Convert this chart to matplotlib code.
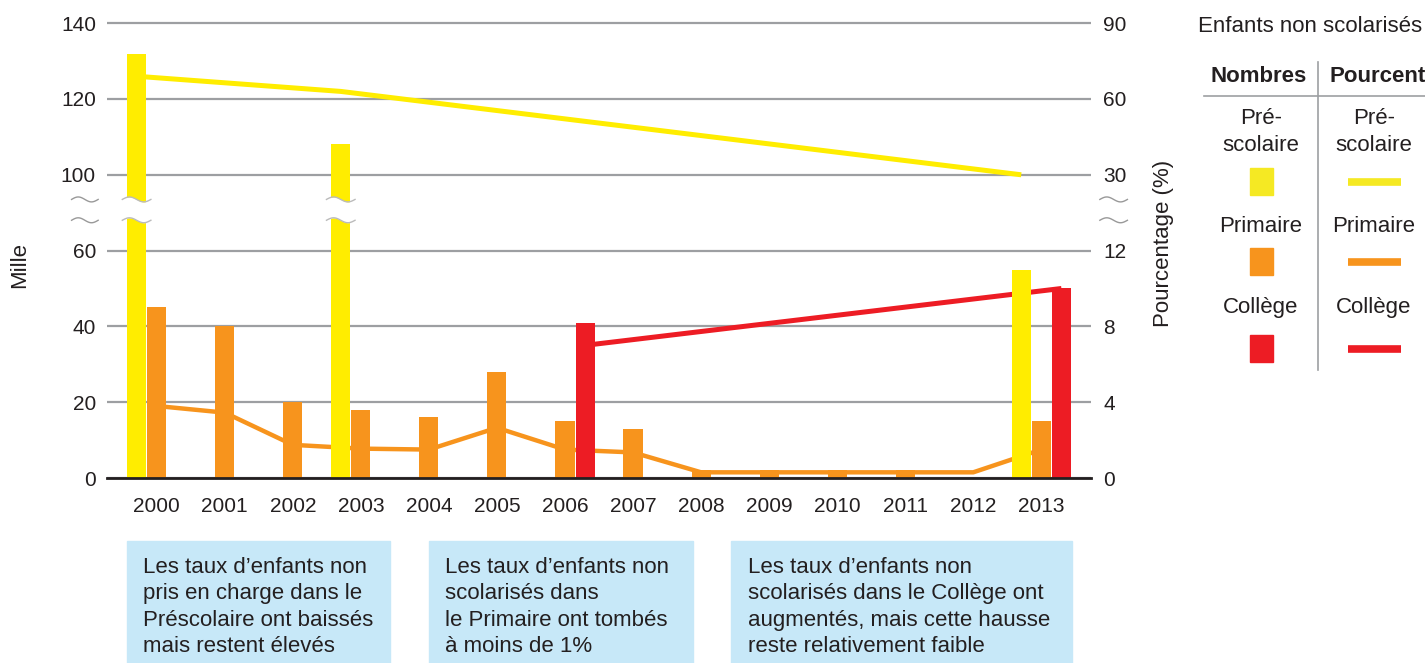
import numpy as np
import matplotlib
matplotlib.use("Agg")
import matplotlib.pyplot as plt
from matplotlib.patches import Rectangle
from matplotlib.lines import Line2D
from matplotlib.transforms import blended_transform_factory

plt.rcParams['font.family'] = ['Liberation Sans', 'DejaVu Sans']

# data (milliers et pourcentages d'enfants non scolarisés)
years = np.arange(2000, 2014)
presc_n = [132, 0, 0, 108, 0, 0, 0, 0, 0, 0, 0, 0, 0, 55]
prim_n = [45, 40, 20, 18, 16, 28, 15, 13, 2, 2, 2, 2, 0, 15]
coll_n = [0, 0, 0, 0, 0, 0, 41, 0, 0, 0, 0, 0, 0, 50]

presc_pct_years = [2000, 2003, 2013]
presc_pct = [69, 63, 30]
prim_pct = [3.8, 3.45, 1.75, 1.55, 1.5, 2.65, 1.5, 1.35, 0.3, 0.3, 0.3, 0.3, 0.3, 1.5]
coll_pct_years = [2006, 2013]
coll_pct = [7, 10]

left_ticks = [0, 20, 40, 60, 100, 120, 140]
right_ticks = [0, 4, 8, 12, 30, 60, 90]

notes = [
    "Les taux d\u2019enfants non\npris en charge dans le\nPréscolaire ont baissés\nmais restent élevés",
    "Les taux d\u2019enfants non\nscolarisés dans\nle Primaire ont tombés\nà moins de 1%",
    "Les taux d\u2019enfants non\nscolarisés dans le Collège ont\naugmentés, mais cette hausse\nreste relativement faible",
]

YELLOW = "#FFED00"
ORANGE = "#F7941D"
RED = "#ED1C24"
TXT = "#231F20"
GRID = "#9D9FA2"
BOX = "#C7E8F8"
FS = 16
TFS = 15


# broken axes: 60-100 and 12-30 squeezed into one step
def fwd_left(v):
    v = np.asarray(v, float)
    return np.where(v <= 60, v / 20, np.where(v < 100, 3 + (v - 60) / 40, 4 + (v - 100) / 20))


def inv_left(t):
    t = np.asarray(t, float)
    return np.where(t <= 3, t * 20, np.where(t < 4, 60 + (t - 3) * 40, 100 + (t - 4) * 20))


def fwd_right(p):
    p = np.asarray(p, float)
    return np.where(p <= 12, p / 4, np.where(p < 30, 3 + (p - 12) / 18, 4 + (p - 30) / 30))


def inv_right(t):
    t = np.asarray(t, float)
    return np.where(t <= 3, t * 4, np.where(t < 4, 12 + (t - 3) * 18, 30 + (t - 4) * 30))


W, H = 1425, 663
fig = plt.figure(figsize=(W / 100, H / 100), dpi=100)
ax = fig.add_axes([107 / W, 1 - 478 / H, (1091 - 107) / W, (478 - 19.4) / H])
ax2 = ax.twinx()

ax.set_yscale('function', functions=(fwd_left, inv_left))
ax2.set_yscale('function', functions=(fwd_right, inv_right))
ytop = 141
ax.set_ylim(0, ytop)
ax2.set_ylim(0, float(inv_right(fwd_left(ytop))))
ax.set_xlim(1999.27, 2013.73)

# bars on top of the lines
ax.set_zorder(ax2.get_zorder() + 1)
ax.patch.set_visible(False)

bw = 0.28
off = 0.295
ax.bar(years - off, presc_n, width=bw, color=YELLOW, zorder=2)
ax.bar(years, prim_n, width=bw, color=ORANGE, zorder=2)
ax.bar(years + off, coll_n, width=bw, color=RED, zorder=2)

ax2.plot(np.array(presc_pct_years) - off, presc_pct, color=YELLOW, lw=3.6, zorder=3,
         solid_capstyle='butt')
ax2.plot(years, prim_pct, color=ORANGE, lw=3.2, zorder=3, solid_capstyle='butt')
ax2.plot(np.array(coll_pct_years) + off, coll_pct, color=RED, lw=3.6, zorder=3,
         solid_capstyle='butt')

# grid and ticks
ax2.set_yticks(right_ticks)
ax2.set_yticklabels([str(t) for t in right_ticks])
ax2.grid(axis='y', color=GRID, lw=1.6, zorder=0)
ax.set_yticks(left_ticks)
ax.set_yticklabels([str(t) for t in left_ticks])
ax.set_xticks(years)
ax.set_xticklabels([str(y) for y in years])
ax.minorticks_off()
ax2.minorticks_off()
ax.tick_params(axis='y', length=0, pad=8, labelsize=TFS, labelcolor=TXT)
ax2.tick_params(axis='y', length=0, pad=9, labelsize=TFS, labelcolor=TXT)
ax.tick_params(axis='x', length=0, pad=14, labelsize=TFS, labelcolor=TXT)
for a in (ax, ax2):
    for s in a.spines.values():
        s.set_visible(False)
ax.spines['bottom'].set_visible(True)
ax.spines['bottom'].set_color(TXT)
ax.spines['bottom'].set_linewidth(2)

# break marks
brk_lo, brk_hi, amp = 76, 87, 1.3
s = np.sin(np.linspace(0, 2 * np.pi, 60))
for yr, v in zip(years, presc_n):
    if v >= 100:
        xs = np.linspace(yr - off - 0.21, yr - off + 0.21, 60)
        ax.fill_between(xs, brk_lo + amp * s, brk_hi + amp * s, color='white', lw=0, zorder=4)
        ax.plot(xs, brk_lo + amp * s, color='#BBBBBB', lw=1, zorder=5)
        ax.plot(xs, brk_hi + amp * s, color='#BBBBBB', lw=1, zorder=5)
tr = blended_transform_factory(ax.transAxes, ax.transData)
for x0, x1 in [(-0.036, -0.009), (1.009, 1.037)]:
    xs = np.linspace(x0, x1, 60)
    for b in (brk_lo, brk_hi):
        ax.plot(xs, b + amp * s, color='#999999', lw=1, transform=tr, clip_on=False)

# axis titles
fig.text(20 / W, 1 - 265 / H, "Mille", rotation=90, ha='center', va='center',
         fontsize=FS, color=TXT)
fig.text(1163 / W, 1 - 243 / H, "Pourcentage (%)", rotation=90, ha='center', va='center',
         fontsize=FS, color=TXT)

# legend table
fig.text(1310 / W, 1 - 26 / H, "Enfants non scolarisés", ha='center', va='center',
         fontsize=FS, color=TXT)
fig.text(1259 / W, 1 - 76 / H, "Nombres", ha='center', va='center', fontsize=FS,
         fontweight='bold', color=TXT)
fig.text(1378 / W, 1 - 76 / H, "Pourcent", ha='center', va='center', fontsize=FS,
         fontweight='bold', color=TXT)
fig.add_artist(Line2D([1318 / W, 1318 / W], [1 - 62 / H, 1 - 370 / H], color=GRID, lw=1.2))
fig.add_artist(Line2D([1204 / W, 1], [1 - 96 / H, 1 - 96 / H], color=GRID, lw=1.2))
rows = [("Pré-\nscolaire", 132, 182, "#F5E923"), ("Primaire", 226, 262, ORANGE),
        ("Collège", 308, 349, RED)]
for label, ty, my, col in rows:
    for cx in (1261, 1374):
        fig.text(cx / W, 1 - ty / H, label, ha='center', va='center', fontsize=FS,
                 color=TXT, linespacing=1.32)
    fig.add_artist(Rectangle((1250 / W, 1 - (my + 13) / H), 23 / W, 27 / H,
                             color=col, transform=fig.transFigure))
    fig.add_artist(Line2D([1348 / W, 1401 / W], [1 - my / H, 1 - my / H], color=col,
                          lw=5.5, solid_capstyle='butt'))

# notes
boxes = [(127, 390, 143), (429, 693, 445), (731, 1072, 748)]
for (bx0, bx1, tx), note in zip(boxes, notes):
    fig.add_artist(Rectangle((bx0 / W, 0), (bx1 - bx0) / W, (H - 541) / H,
                             color=BOX, transform=fig.transFigure, zorder=0))
    fig.text(tx / W, 1 - 607 / H, note, ha='left', va='center', fontsize=FS,
             color=TXT, linespacing=1.32)

fig.savefig("out.png", dpi=100)
